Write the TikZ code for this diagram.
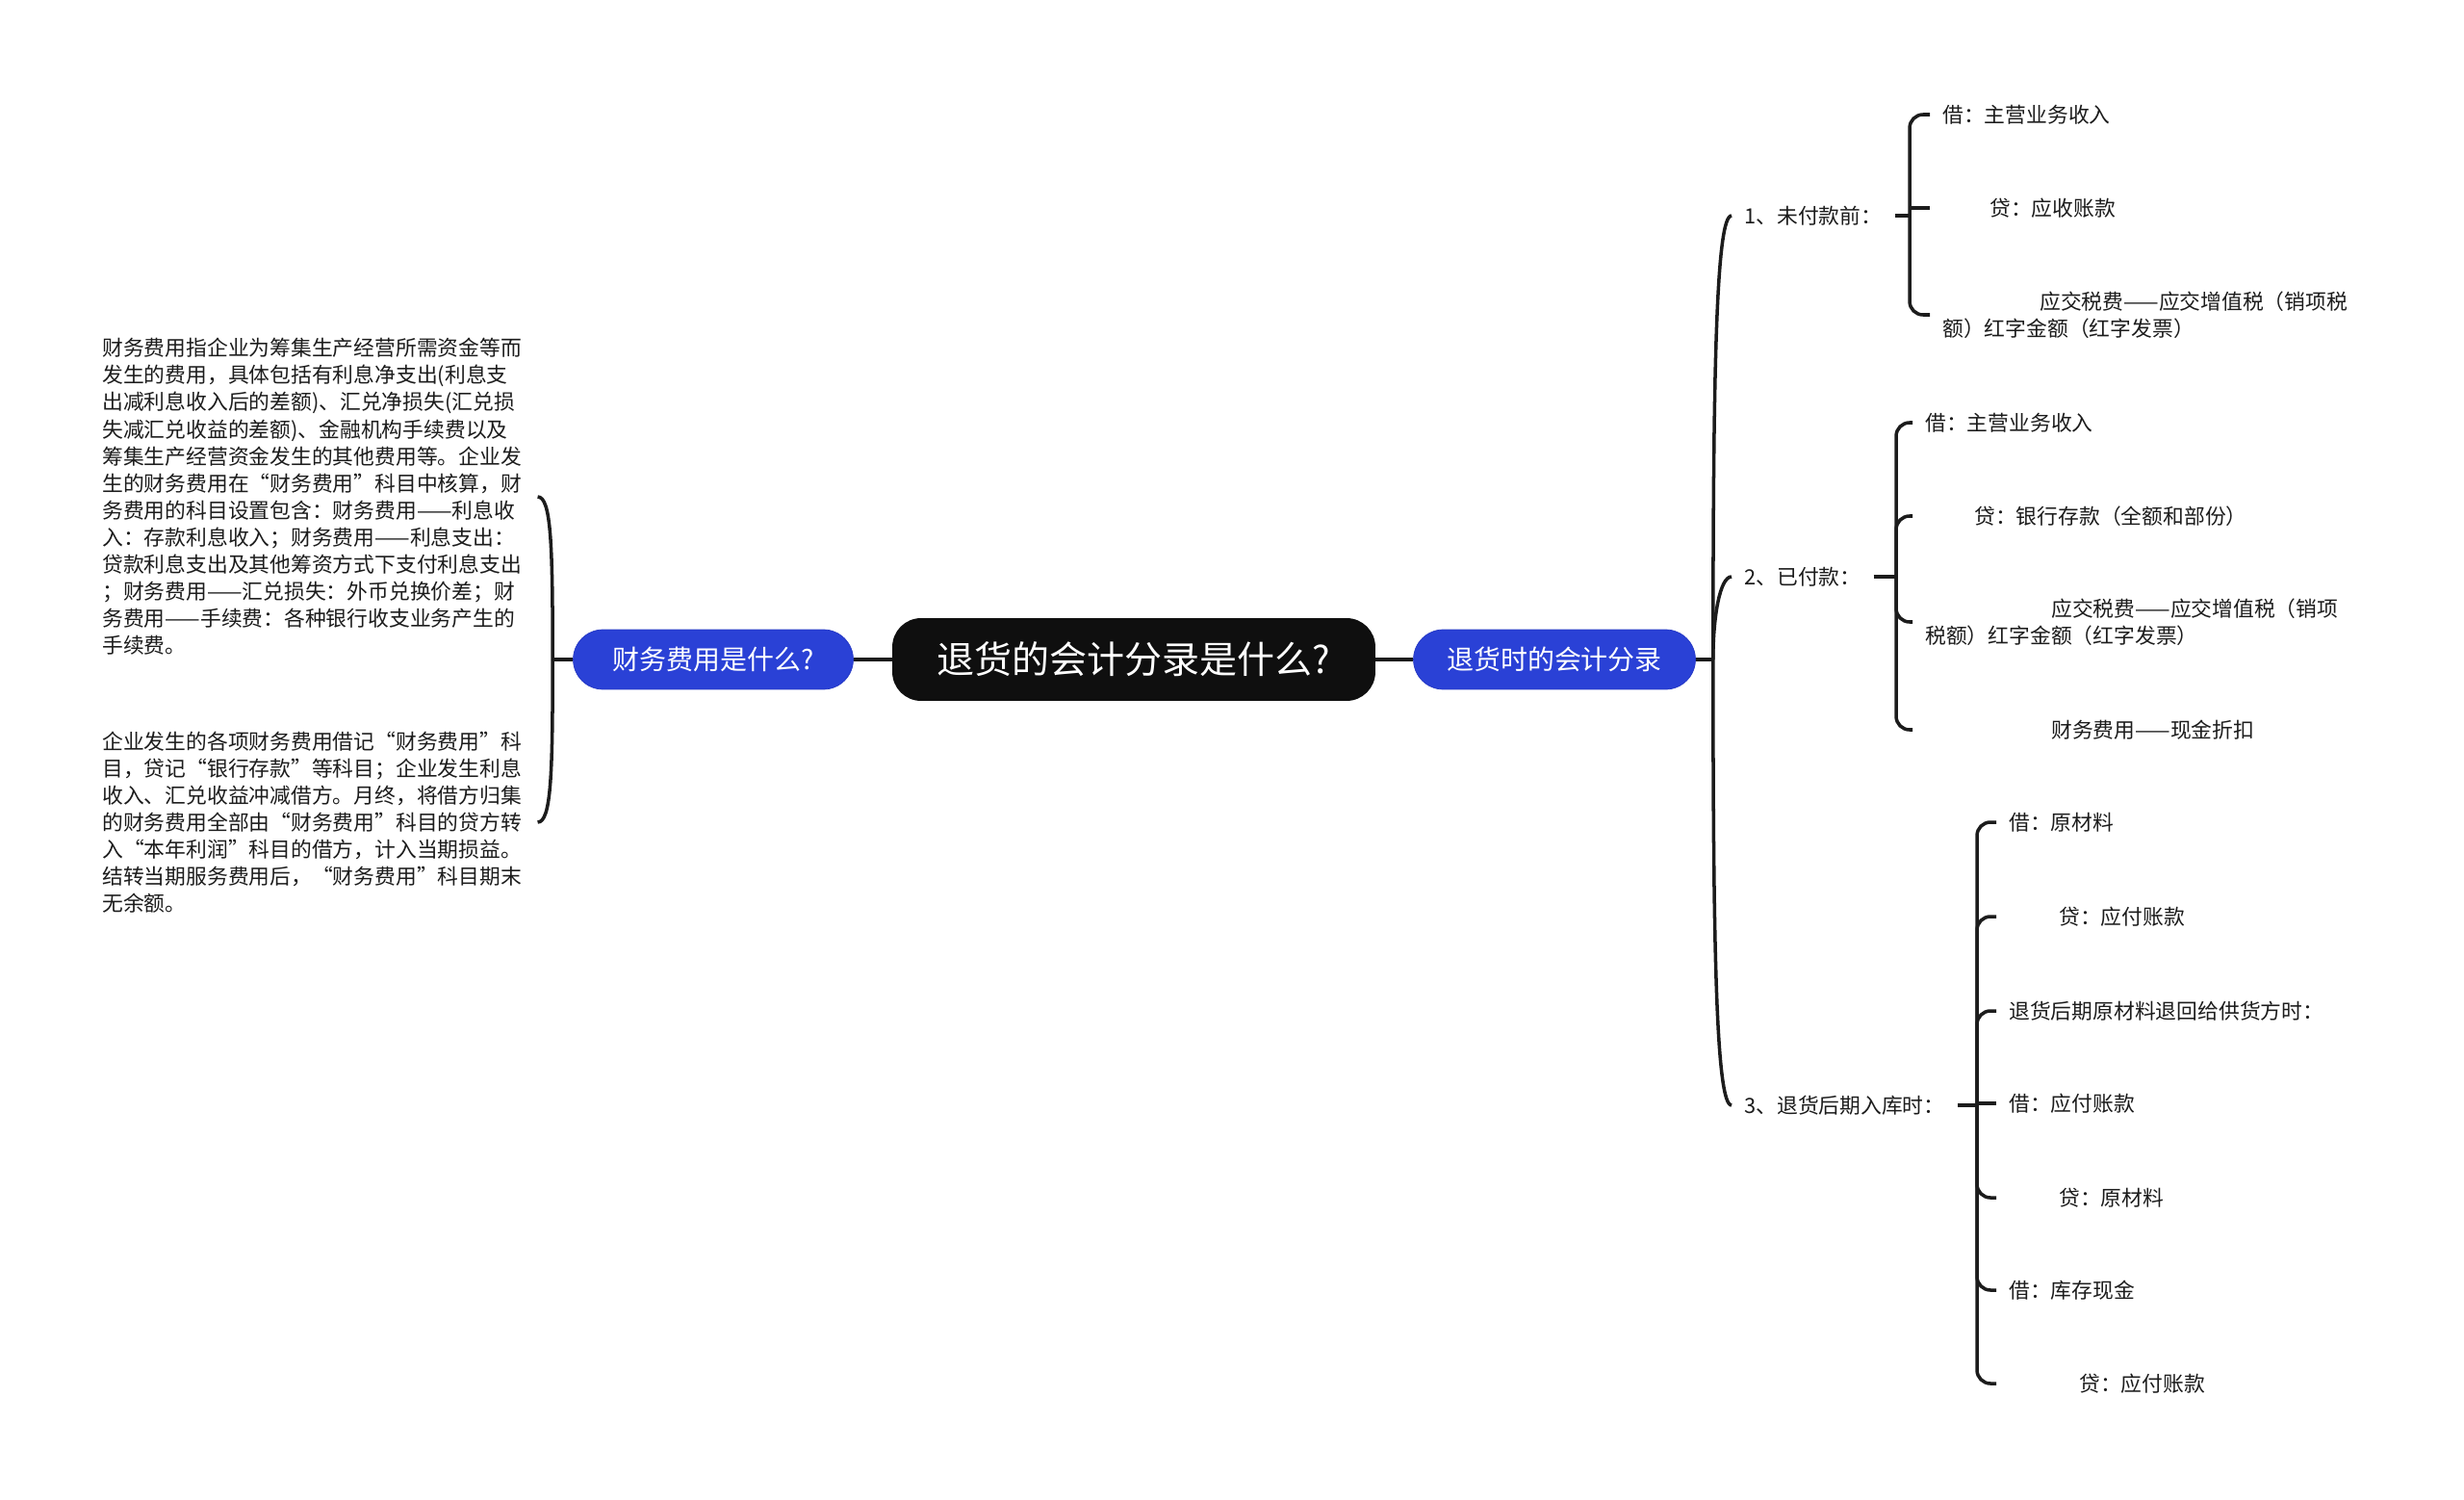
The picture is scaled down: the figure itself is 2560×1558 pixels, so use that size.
\documentclass[tikz,border=0pt]{standalone}
\usepackage{fontspec}
\setmainfont{Noto Sans CJK SC}
\usetikzlibrary{calc}
\definecolor{Ink}{HTML}{1C1C1C}
\definecolor{RootFill}{HTML}{0F0F0F}
\definecolor{Topic}{HTML}{2A41D6}
\definecolor{TopicEdge}{HTML}{2538C4}
\newcommand{\bodyfont}{\fontsize{12.4pt}{16pt}\selectfont}
\tikzset{rootnode/.style={fill=RootFill,text=white,rounded corners=0.6cm,
    minimum width=10.04cm,minimum height=1.72cm,inner sep=0pt,
    font=\fontsize{22.2pt}{27pt}\selectfont},
  topic/.style={fill=Topic,draw=TopicEdge,text=white,rounded corners=0.62cm,
    minimum height=1.24cm,inner sep=0pt,font=\fontsize{15.9pt}{19pt}\selectfont},
  leaf/.style={anchor=west,text=Ink,inner xsep=0.26cm,inner ysep=0.1cm,
    align=left,font=\bodyfont},
  para/.style={anchor=west,text=Ink,inner sep=0.14cm,align=left,
    text width=8.9cm,font=\bodyfont},
  link/.style={draw=Ink,line width=2pt},
  brace/.style={link,rounded corners=0.28cm}}

\begin{document}
\begin{tikzpicture}[x=0.02cm,y=-0.02cm]
  \useasboundingbox (0,0) rectangle (2560,1558);
  % centre and the two main topics
  \node[rootnode] (root) at (1178,685) {退货的会计分录是什么?};
  \node[topic,minimum width=5.82cm] (fin) at (741,685) {财务费用是什么?};
  \node[topic,minimum width=5.86cm] (ret) at (1615,685) {退货时的会计分录};
  \draw[link] (root.west) -- (fin.east);
  \draw[link] (root.east) -- (ret.west);
  \coordinate (lhub) at ([xshift=-0.42cm]fin.west);
  \coordinate (rhub) at ([xshift=0.36cm]ret.east);
  \draw[link] (fin.west) -- (lhub);
  \draw[link] (ret.east) -- (rhub);

  % left: two paragraphs
  \node[para] (p1) at (99,516) {财务费用指企业为筹集生产经营所需资金等而\\
    发生的费用，具体包括有利息净支出(利息支\\
    出减利息收入后的差额)、汇兑净损失(汇兑损\\
    失减汇兑收益的差额)、金融机构手续费以及\\
    筹集生产经营资金发生的其他费用等。企业发\\
    生的财务费用在“财务费用”科目中核算，财\\
    务费用的科目设置包含：财务费用——利息收\\
    入：存款利息收入；财务费用——利息支出：\\
    贷款利息支出及其他筹资方式下支付利息支出\\
    ；财务费用——汇兑损失：外币兑换价差；财\\
    务费用——手续费：各种银行收支业务产生的\\
    手续费。};
  \node[para] (p2) at (99,854) {企业发生的各项财务费用借记“财务费用”科\\
    目，贷记“银行存款”等科目；企业发生利息\\
    收入、汇兑收益冲减借方。月终，将借方归集\\
    的财务费用全部由“财务费用”科目的贷方转\\
    入“本年利润”科目的借方，计入当期损益。\\
    结转当期服务费用后，“财务费用”科目期末\\
    无余额。};
  \draw[link] (lhub) .. controls +(0,-120) and +(14,0) .. (p1.east);
  \draw[link] (lhub) .. controls +(0,120) and +(14,0) .. (p2.east);

  % right: three cases
  \node[leaf] (g1) at (1799,224) {1、未付款前：};
  \node[leaf] (g2) at (1799,599) {2、已付款：};
  \node[leaf] (g3) at (1799,1148) {3、退货后期入库时：};
  \draw[link] (rhub) .. controls +(0,-300) and +(-16,0) .. (g1.west);
  \draw[link] (rhub) .. controls +(0,-45) and +(-12,0) .. (g2.west);
  \draw[link] (rhub) .. controls +(0,300) and +(-16,0) .. (g3.west);

  % case 1
  \node[leaf] (c11) at (2005,119) {借：主营业务收入};
  \node[leaf] (c12) at (2005,216) {\hspace*{0.98cm}贷：应收账款};
  \node[leaf] (c13) at (2005,327) {\hspace*{2.02cm}应交税费——应交增值税（销项税\\额）红字金额（红字发票）};
  \coordinate (b1) at (1984,224);
  \draw[link] (g1.east) -- (b1);
  \draw[brace] (b1) |- (c11.west);
  \draw[link] (b1 |- c12.west) -- (c12.west);
  \draw[brace] (b1) |- (c13.west);

  % case 2
  \node[leaf] (c21) at (1987,439) {借：主营业务收入};
  \node[leaf] (c22) at (1987,536) {\hspace*{1.02cm}贷：银行存款（全额和部份）};
  \node[leaf] (c23) at (1987,646) {\hspace*{2.62cm}应交税费——应交增值税（销项\\税额）红字金额（红字发票）};
  \node[leaf] (c24) at (1987,758) {\hspace*{2.62cm}财务费用——现金折扣};
  \coordinate (b2) at (1970,599);
  \draw[link] (g2.east) -- (b2);
  \foreach \c in {c21,c22,c23,c24}
    \draw[brace] (b2) |- (\c.west);

  % case 3
  \node[leaf] (c31) at (2074,854) {借：原材料};
  \node[leaf] (c32) at (2074,952) {\hspace*{1.04cm}贷：应付账款};
  \node[leaf] (c33) at (2074,1050) {退货后期原材料退回给供货方时：};
  \node[leaf] (c34) at (2074,1146) {借：应付账款};
  \node[leaf] (c35) at (2074,1244) {\hspace*{1.04cm}贷：原材料};
  \node[leaf] (c36) at (2074,1340) {借：库存现金};
  \node[leaf] (c37) at (2074,1437) {\hspace*{1.46cm}贷：应付账款};
  \coordinate (b3) at (2054,1148);
  \draw[link] (g3.east) -- (b3);
  \foreach \c in {c31,c32,c33,c35,c36,c37}
    \draw[brace] (b3) |- (\c.west);
  \draw[link] (b3 |- c34.west) -- (c34.west);
\end{tikzpicture}
\end{document}
